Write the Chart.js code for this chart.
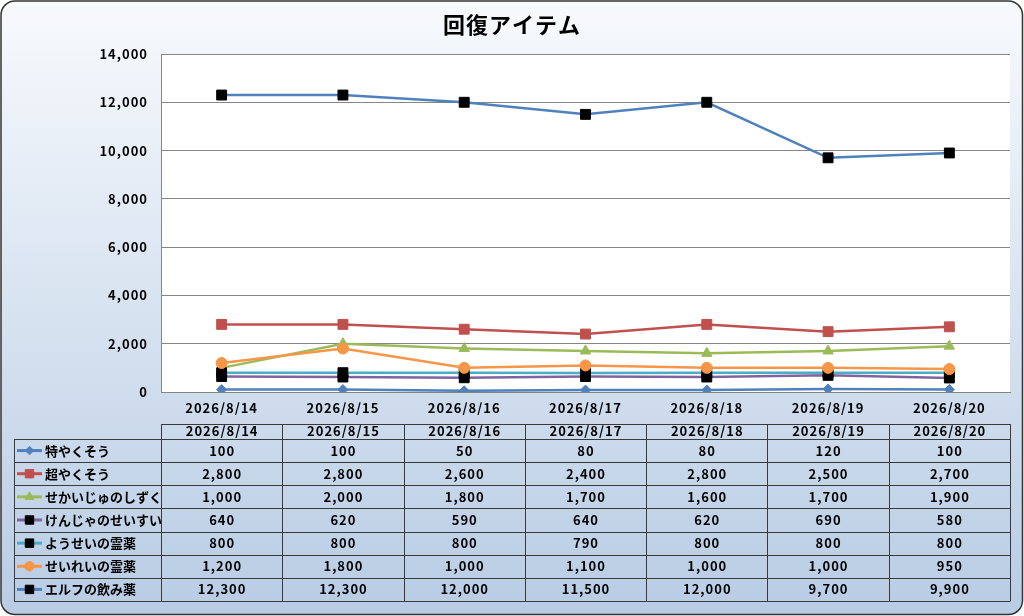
<!DOCTYPE html>
<html><head><meta charset="utf-8">
<script src="https://cdn.jsdelivr.net/npm/chart.js@4.4.1/dist/chart.umd.min.js"></script>
<style>html,body{margin:0;padding:0;background:#fff}#wrap{width:1024px;height:616px}</style>
</head><body><div id="wrap"><canvas id="c" width="1024" height="616"></canvas></div>
<script>
const chartTitle = '回復アイテム';
const categories = ['2026/8/14','2026/8/15','2026/8/16','2026/8/17','2026/8/18','2026/8/19','2026/8/20'];
const seriesNames = ['特やくそう','超やくそう','せかいじゅのしずく','けんじゃのせいすい','ようせいの霊薬','せいれいの霊薬','エルフの飲み薬'];
const tokuYakusou    = [100, 100, 50, 80, 80, 120, 100];
const chouYakusou    = [2800, 2800, 2600, 2400, 2800, 2500, 2700];
const sekaijuShizuku = [1000, 2000, 1800, 1700, 1600, 1700, 1900];
const kenjaSeisui    = [640, 620, 590, 640, 620, 690, 580];
const youseiReiyaku  = [800, 800, 800, 790, 800, 800, 800];
const seireiReiyaku  = [1200, 1800, 1000, 1100, 1000, 1000, 950];
const elfNomigusuri  = [12300, 12300, 12000, 11500, 12000, 9700, 9900];
const yMin = 0, yMax = 14000, yStep = 2000;

const seriesValues = [tokuYakusou, chouYakusou, sekaijuShizuku, kenjaSeisui, youseiReiyaku, seireiReiyaku, elfNomigusuri];
const lineColors  = ['#4F81BD','#C0504D','#9BBB59','#8064A2','#4BACC6','#F79646','#4F81BD'];
const markerColors= ['#4F81BD','#C0504D','#9BBB59','#000000','#000000','#F79646','#000000'];
const markerStyles= ['rectRot','rect','triangle','rect','rect','circle','rect'];
const markerRadius= [5, 7, 6, 7, 7, 5.5, 7];

const FONT = "'Noto Sans CJK JP', 'Noto Sans', sans-serif";
const fmt = v => v.toLocaleString('en-US');

const datasets = seriesNames.map((name, i) => ({
  label: name,
  data: seriesValues[i],
  borderColor: lineColors[i],
  backgroundColor: markerColors[i],
  borderWidth: 2.5,
  pointStyle: markerStyles[i],
  pointRadius: markerRadius[i],
  pointHoverRadius: markerRadius[i],
  pointBackgroundColor: markerColors[i],
  pointBorderColor: markerColors[i],
  pointBorderWidth: 1,
  tension: 0,
  order: seriesNames.length - i
}));

function roundRect(ctx, x, y, w, h, r) {
  ctx.beginPath();
  ctx.moveTo(x + r, y);
  ctx.lineTo(x + w - r, y); ctx.arcTo(x + w, y, x + w, y + r, r);
  ctx.lineTo(x + w, y + h - r); ctx.arcTo(x + w, y + h, x + w - r, y + h, r);
  ctx.lineTo(x + r, y + h); ctx.arcTo(x, y + h, x, y + h - r, r);
  ctx.lineTo(x, y + r); ctx.arcTo(x, y, x + r, y, r);
  ctx.closePath();
}

const bgPlugin = {
  id: 'bg',
  beforeDraw(chart) {
    const ctx = chart.ctx, W = chart.width, H = chart.height, a = chart.chartArea;
    ctx.save();
    ctx.fillStyle = '#ffffff';
    ctx.fillRect(0, 0, W, H);
    const g = ctx.createLinearGradient(0, 0, 0, H);
    g.addColorStop(0, '#f8fafd');
    g.addColorStop(1, '#b8cce4');
    roundRect(ctx, 1, 1, W - 2.5, H - 2.5, 14);
    ctx.fillStyle = g;
    ctx.fill();
    ctx.lineWidth = 1.5;
    ctx.strokeStyle = '#333333';
    ctx.stroke();
    ctx.fillStyle = '#ffffff';
    ctx.fillRect(a.left, a.top, a.right - a.left, a.bottom - a.top);
    ctx.restore();
    // wider spacing like the reference's rounded font
    if ('letterSpacing' in ctx) ctx.letterSpacing = '1px';
  }
};

function drawMarker(ctx, i, x, y) {
  ctx.save();
  ctx.fillStyle = markerColors[i];
  ctx.strokeStyle = markerColors[i];
  ctx.lineWidth = 1;
  Chart.helpers.drawPoint(ctx, {pointStyle: markerStyles[i], radius: markerRadius[i] * 0.85, rotation: 0, borderWidth: 1}, x, y);
  ctx.restore();
}

const tablePlugin = {
  id: 'dataTable',
  afterDraw(chart) {
    const ctx = chart.ctx, a = chart.chartArea;
    const n = categories.length;
    const colW = (a.right - a.left) / n;
    const top = 424, headBottom = 439, bottom = 601, legLeft = 14;
    const rowH = (bottom - headBottom) / seriesNames.length;
    ctx.save();
    ctx.strokeStyle = '#3a3a3a';
    ctx.lineWidth = 1;
    ctx.beginPath();
    ctx.moveTo(a.left, top + 0.5); ctx.lineTo(a.right, top + 0.5);
    for (let r = 0; r <= seriesNames.length; r++) {
      const y = Math.round(headBottom + r * rowH) + 0.5;
      ctx.moveTo(legLeft, y); ctx.lineTo(a.right, y);
    }
    ctx.moveTo(legLeft + 0.5, headBottom); ctx.lineTo(legLeft + 0.5, bottom + 0.5);
    for (let c = 0; c <= n; c++) {
      const x = Math.round(a.left + c * colW) + 0.5;
      ctx.moveTo(x, top); ctx.lineTo(x, bottom + 0.5);
    }
    ctx.stroke();

    const hasLS = 'letterSpacing' in ctx;
    ctx.fillStyle = '#000';
    ctx.textBaseline = 'middle';
    ctx.font = 'bold 13px ' + FONT;
    ctx.textAlign = 'center';
    if (hasLS) ctx.letterSpacing = '1px';
    for (let c = 0; c < n; c++) {
      ctx.fillText(categories[c], a.left + (c + 0.5) * colW + 0.5, (top + headBottom) / 2);
    }
    for (let r = 0; r < seriesNames.length; r++) {
      const cy = headBottom + (r + 0.5) * rowH;
      ctx.textAlign = 'center';
      ctx.fillStyle = '#000';
      if (hasLS) ctx.letterSpacing = '1px';
      for (let c = 0; c < n; c++) {
        ctx.fillText(fmt(seriesValues[r][c]), a.left + (c + 0.5) * colW + 0.5, cy);
      }
      // legend key
      ctx.strokeStyle = lineColors[r];
      ctx.lineWidth = 3;
      ctx.beginPath();
      ctx.moveTo(17, cy); ctx.lineTo(42, cy);
      ctx.stroke();
      drawMarker(ctx, r, 29.5, cy);
      ctx.fillStyle = '#000';
      ctx.textAlign = 'left';
      if (hasLS) ctx.letterSpacing = '0px';
      ctx.fillText(seriesNames[r], 45, cy);
    }
    ctx.restore();
  }
};

new Chart(document.getElementById('c'), {
  type: 'line',
  data: { labels: categories, datasets },
  plugins: [bgPlugin, tablePlugin],
  options: {
    responsive: false,
    animation: false,
    layout: { padding: { left: 14, top: 0, right: 14, bottom: 0 } },
    plugins: {
      legend: { display: false },
      tooltip: { enabled: false },
      title: {
        display: true,
        text: chartTitle,
        color: '#000',
        font: { family: FONT, size: 22, weight: 'bold', lineHeight: 1.2 },
        padding: { top: 11, bottom: 16.6 }
      }
    },
    scales: {
      x: {
        offset: true,
        grid: { display: false, drawTicks: false },
        border: { display: true, color: '#868686', width: 1 },
        ticks: { color: '#000', padding: 8, font: { family: FONT, size: 13, weight: 'bold' }, maxRotation: 0, autoSkip: false },
        afterFit(s) { s.height = 224; }
      },
      y: {
        min: yMin, max: yMax,
        grid: { color: '#868686', drawTicks: false, lineWidth: 1 },
        border: { display: true, color: '#868686', width: 1 },
        ticks: { stepSize: yStep, color: '#000', padding: 13, font: { family: FONT, size: 13, weight: 'bold' }, callback: v => fmt(v) },
        afterFit(s) { s.width = 147; }
      }
    }
  }
});
</script></body></html>
